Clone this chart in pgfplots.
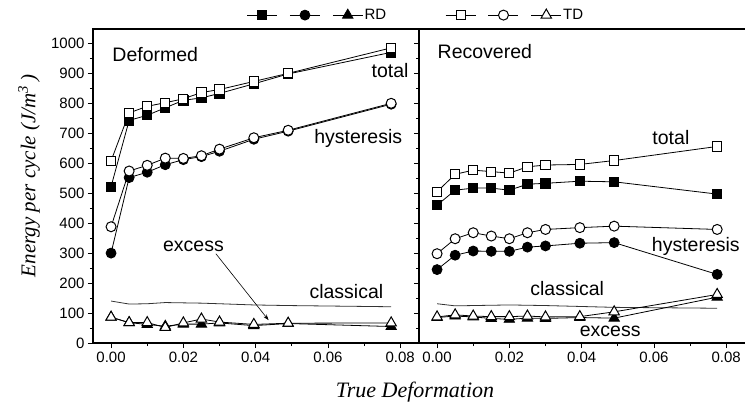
\documentclass[border=0pt]{standalone}
\usepackage{fontspec}
\setmainfont{Liberation Sans}
\newfontfamily\timesfont{Liberation Serif}
\usepackage{pgfplots}
\pgfplotsset{compat=1.18}
\usetikzlibrary{arrows.meta}

\tikzset{lbl/.style={font=\fontsize{19.5}{22}\selectfont}}
\pgfplotsset{
  panel/.style={
    scale only axis, width=326pt, height=314pt,
    xmin=-0.005, xmax=0.0852, ymin=0, ymax=1048,
    xtick={0,0.02,0.04,0.06,0.08},
    minor xtick={0.01,0.03,0.05,0.07},
    ytick={0,100,...,1000},
    minor ytick={50,150,...,1050},
    scaled x ticks=false,
    xticklabel style={/pgf/number format/fixed, /pgf/number format/fixed zerofill, /pgf/number format/precision=2},
    yticklabel style={/pgf/number format/1000 sep={}},
    /pgf/number format/assume math mode=true,
    tick align=outside, xtick pos=bottom, ytick pos=left,
    major tick length=5pt, minor tick length=3pt,
    tick style={black, line width=0.8pt},
    ticklabel style={font=\fontsize{15}{17}\selectfont},
    axis line style={line width=1.1pt},
    clip=false,
    every axis plot/.append style={line width=0.8pt, black},
    legend image code/.code={
      \draw[mark repeat=2, mark phase=2, ##1] plot coordinates {(0pt,0pt) (15pt,0pt) (30pt,0pt)};},
    legend style={draw=none, fill=none, inner sep=0pt,
      font=\fontsize{15}{17}\selectfont,
      nodes={inner sep=1.5pt},
      /tikz/every even column/.append style={column sep=9pt}},
    legend columns=3,
  },
  rdsq/.style={mark=square*, mark size=4.6pt, mark options={solid, fill=black}},
  rdci/.style={mark=*, mark size=5pt, mark options={solid, fill=black}},
  rdtr/.style={mark=triangle*, mark size=6pt, mark options={solid, fill=black}},
  tdsq/.style={mark=square*, mark size=4.6pt, mark options={solid, fill=white, line width=1pt}},
  tdci/.style={mark=*, mark size=5pt, mark options={solid, fill=white, line width=1pt}},
  tdtr/.style={mark=triangle*, mark size=6pt, mark options={solid, fill=white, line width=1pt}},
}

\begin{document}
\begin{tikzpicture}
% Deformed
\begin{axis}[panel, at={(0,0)}, anchor=south west,
  legend style={at={(0.905,1.02)}, anchor=south east}]
\addplot[no marks, forget plot, gray!40!black] coordinates
  {(0,140) (0.005,130) (0.01,131) (0.015,135) (0.02,134) (0.025,133) (0.03,131) (0.0395,127) (0.049,125) (0.0775,121)};
\addplot[rdsq] coordinates
  {(0,522) (0.005,743) (0.01,760) (0.015,785) (0.02,810) (0.025,818) (0.03,833) (0.0395,865) (0.049,898) (0.0775,970)};
\addlegendentry{}
\addplot[rdci] coordinates
  {(0,300) (0.005,552) (0.01,570) (0.015,595) (0.02,612) (0.025,622) (0.03,640) (0.0395,680) (0.049,707) (0.0775,797)};
\addlegendentry{}
\addplot[rdtr] coordinates
  {(0,86) (0.005,68) (0.01,62) (0.015,56) (0.02,63) (0.025,63) (0.03,67) (0.0395,58) (0.049,65) (0.0775,55)};
\addlegendentry{RD}
\addplot[tdsq, forget plot] coordinates
  {(0,608) (0.005,768) (0.01,790) (0.015,802) (0.02,815) (0.025,836) (0.03,846) (0.0395,873) (0.049,900) (0.0775,985)};
\addplot[tdci, forget plot] coordinates
  {(0,388) (0.005,574) (0.01,593) (0.015,617) (0.02,616) (0.025,625) (0.03,647) (0.0395,685) (0.049,710) (0.0775,800)};
\addplot[tdtr, forget plot] coordinates
  {(0,86) (0.005,68) (0.01,68) (0.015,52) (0.02,67) (0.025,80) (0.03,70) (0.0395,62) (0.049,66) (0.0775,67)};
\node[lbl, anchor=west] at (axis cs:-0.0006,963) {Deformed};
\node[lbl] at (axis cs:0.0772,908) {total};
\node[lbl] at (axis cs:0.0684,682) {hysteresis};
\node[lbl] at (axis cs:0.0228,322) {excess};
\node[lbl] at (axis cs:0.0651,172) {classical};
\draw[-{Stealth[length=6pt,width=4pt]}, line width=0.6pt] (axis cs:0.029,298) -- (axis cs:0.0436,76);
\end{axis}
% Recovered
\begin{axis}[panel, at={(326pt,0)}, anchor=south west,
  axis y line*=left, axis x line*=box, yticklabels={},
  legend style={at={(0.08,1.02)}, anchor=south west}]
\addplot[no marks, forget plot, gray!40!black] coordinates
  {(0,131) (0.005,124) (0.01,125) (0.015,126) (0.02,127) (0.025,126) (0.03,125) (0.0395,122) (0.049,119) (0.0775,116)};
\addplot[rdsq, forget plot] coordinates
  {(0,460) (0.005,510) (0.01,517) (0.015,517) (0.02,510) (0.025,530) (0.03,533) (0.0395,540) (0.049,538) (0.0775,497)};
\addplot[rdci, forget plot] coordinates
  {(0,245) (0.005,293) (0.01,307) (0.015,306) (0.02,306) (0.025,320) (0.03,324) (0.0395,333) (0.049,335) (0.0775,229)};
\addplot[rdtr, forget plot] coordinates
  {(0,85) (0.005,90) (0.01,87) (0.015,82) (0.02,79) (0.025,83) (0.03,82) (0.0395,85) (0.049,83) (0.0775,153)};
\addplot[tdsq] coordinates
  {(0,505) (0.005,563) (0.01,577) (0.015,572) (0.02,567) (0.025,588) (0.03,594) (0.0395,596) (0.049,609) (0.0775,656)};
\addlegendentry{}
\addplot[tdci] coordinates
  {(0,298) (0.005,348) (0.01,368) (0.015,357) (0.02,348) (0.025,368) (0.03,379) (0.0395,385) (0.049,390) (0.0775,379)};
\addlegendentry{}
\addplot[tdtr] coordinates
  {(0,87) (0.005,94) (0.01,90) (0.015,88) (0.02,88) (0.025,90) (0.03,87) (0.0395,88) (0.049,104) (0.0775,162)};
\addlegendentry{TD}
\node[lbl, anchor=west] at (axis cs:-0.0008,973) {Recovered};
\node[lbl] at (axis cs:0.0647,686) {total};
\node[lbl] at (axis cs:0.0716,322) {hysteresis};
\node[lbl] at (axis cs:0.036,182) {classical};
\node[lbl] at (axis cs:0.0479,40) {excess};
\end{axis}
\node[font=\timesfont\itshape\fontsize{22}{25}\selectfont] at (322pt,-49pt) {True Deformation};
\node[font=\timesfont\itshape\fontsize{21}{24}\selectfont, rotate=90] at (-64pt,167pt)
  {Energy per cycle (J/m\textsuperscript{3}\,)};
\pgfresetboundingbox
\path (-93pt,-65pt) rectangle (652pt,343pt);
\end{tikzpicture}
\end{document}
